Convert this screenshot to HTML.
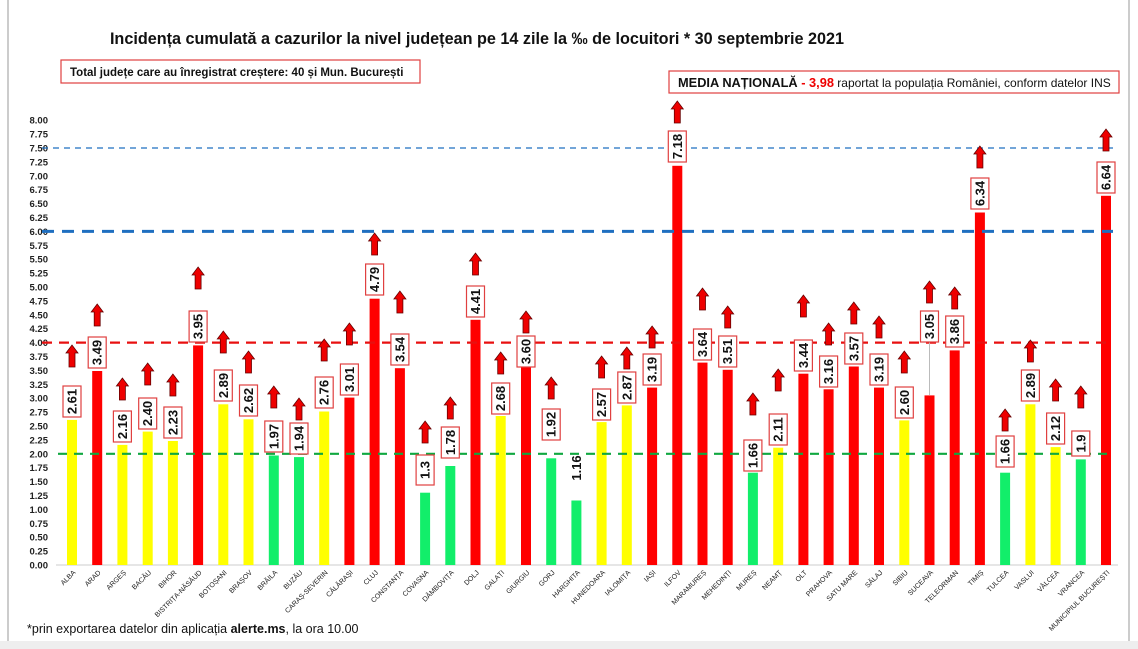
<!DOCTYPE html>
<html><head><meta charset="utf-8"><style>
body{margin:0;background:#fff}
svg{display:block}
text{font-family:"Liberation Sans",sans-serif}
.t{font-size:9.5px;font-weight:bold;fill:#222}
.v{font-size:13px;font-weight:bold;fill:#111}
.c{font-size:7px;fill:#222}
</style></head><body>
<svg width="1138" height="649" viewBox="0 0 1138 649" xmlns="http://www.w3.org/2000/svg">
<defs>
<symbol id="ar" viewBox="-7 -1 14 24" width="14" height="24" overflow="visible">
<path d="M-3,22 L-3,8 L-6,8 L0,0 L6,8 L3,8 L3,22Z" fill="#e00" stroke="#600" stroke-width="0.8"/>
</symbol>
</defs>
<rect x="0" y="0" width="1138" height="649" fill="#fff"/>
<line x1="8" y1="0" x2="8" y2="641" stroke="#bbb" stroke-width="1.5"/>
<line x1="1129" y1="0" x2="1129" y2="641" stroke="#bbb" stroke-width="1.5"/>
<rect x="0" y="641" width="1138" height="8" fill="#eee"/>

<text x="477" y="44" text-anchor="middle" font-size="16.2" font-weight="bold" fill="#111">Incidența cumulată a cazurilor la nivel județean pe 14 zile la ‰ de locuitori * 30 septembrie 2021</text>
<rect x="61" y="60" width="359" height="23" fill="#fff" stroke="#e04040" stroke-width="1.2"/>
<text x="70" y="76" font-size="11.5" font-weight="bold" fill="#111">Total județe care au înregistrat creștere:  40 și Mun. București</text>
<rect x="669" y="71" width="450" height="22" fill="#fff" stroke="#e04040" stroke-width="1.2"/>
<text x="678" y="87" font-size="12.8" fill="#111"><tspan font-weight="bold">MEDIA NAȚIONALĂ</tspan><tspan font-weight="bold" fill="#e00">  - 3,98</tspan><tspan font-size="12"> raportat la populația României, conform datelor INS</tspan></text>

<g class="t" text-anchor="end">
<text x="48" y="568.5">0.00</text><text x="48" y="554.6">0.25</text><text x="48" y="540.7">0.50</text><text x="48" y="526.8">0.75</text>
<text x="48" y="512.9">1.00</text><text x="48" y="499.0">1.25</text><text x="48" y="485.1">1.50</text><text x="48" y="471.2">1.75</text>
<text x="48" y="457.3">2.00</text><text x="48" y="443.4">2.25</text><text x="48" y="429.5">2.50</text><text x="48" y="415.6">2.75</text>
<text x="48" y="401.7">3.00</text><text x="48" y="387.8">3.25</text><text x="48" y="373.9">3.50</text><text x="48" y="360.0">3.75</text>
<text x="48" y="346.1">4.00</text><text x="48" y="332.2">4.25</text><text x="48" y="318.3">4.50</text><text x="48" y="304.4">4.75</text>
<text x="48" y="290.5">5.00</text><text x="48" y="276.6">5.25</text><text x="48" y="262.7">5.50</text><text x="48" y="248.8">5.75</text>
<text x="48" y="234.9">6.00</text><text x="48" y="221.0">6.25</text><text x="48" y="207.1">6.50</text><text x="48" y="193.2">6.75</text>
<text x="48" y="179.3">7.00</text><text x="48" y="165.4">7.25</text><text x="48" y="151.5">7.50</text><text x="48" y="137.6">7.75</text>
<text x="48" y="123.7">8.00</text>
</g>
<line x1="56" y1="565" x2="1118" y2="565" stroke="#ccc" stroke-width="1"/>

<g>
<rect x="67" y="419.9" width="10" height="145.1" fill="#ffff00"/>
<rect x="92.2" y="371" width="10" height="194" fill="#ff0000"/>
<rect x="117.4" y="444.9" width="10" height="120.1" fill="#ffff00"/>
<rect x="142.7" y="431.6" width="10" height="133.4" fill="#ffff00"/>
<rect x="167.9" y="441" width="10" height="124" fill="#ffff00"/>
<rect x="193.1" y="345.4" width="10" height="219.6" fill="#ff0000"/>
<rect x="218.3" y="404.3" width="10" height="160.7" fill="#ffff00"/>
<rect x="243.5" y="419.3" width="10" height="145.7" fill="#ffff00"/>
<rect x="268.8" y="455.5" width="10" height="109.5" fill="#12ee6a"/>
<rect x="294" y="457.1" width="10" height="107.9" fill="#12ee6a"/>
<rect x="319.2" y="411.5" width="10" height="153.5" fill="#ffff00"/>
<rect x="344.4" y="397.6" width="10" height="167.4" fill="#ff0000"/>
<rect x="369.6" y="298.7" width="10" height="266.3" fill="#ff0000"/>
<rect x="394.9" y="368.2" width="10" height="196.8" fill="#ff0000"/>
<rect x="420.1" y="492.7" width="10" height="72.3" fill="#12ee6a"/>
<rect x="445.3" y="466" width="10" height="99" fill="#12ee6a"/>
<rect x="470.5" y="319.8" width="10" height="245.2" fill="#ff0000"/>
<rect x="495.7" y="416" width="10" height="149" fill="#ffff00"/>
<rect x="521" y="364.8" width="10" height="200.2" fill="#ff0000"/>
<rect x="546.2" y="458.3" width="10" height="106.7" fill="#12ee6a"/>
<rect x="571.4" y="500.5" width="10" height="64.5" fill="#12ee6a"/>
<rect x="596.6" y="422.1" width="10" height="142.9" fill="#ffff00"/>
<rect x="621.8" y="405.4" width="10" height="159.6" fill="#ffff00"/>
<rect x="647.1" y="387.6" width="10" height="177.4" fill="#ff0000"/>
<rect x="672.3" y="165.8" width="10" height="399.2" fill="#ff0000"/>
<rect x="697.5" y="362.6" width="10" height="202.4" fill="#ff0000"/>
<rect x="722.7" y="369.8" width="10" height="195.2" fill="#ff0000"/>
<rect x="747.9" y="472.7" width="10" height="92.3" fill="#12ee6a"/>
<rect x="773.2" y="447.7" width="10" height="117.3" fill="#ffff00"/>
<rect x="798.4" y="373.7" width="10" height="191.3" fill="#ff0000"/>
<rect x="823.6" y="389.3" width="10" height="175.7" fill="#ff0000"/>
<rect x="848.8" y="366.5" width="10" height="198.5" fill="#ff0000"/>
<rect x="874" y="387.6" width="10" height="177.4" fill="#ff0000"/>
<rect x="899.3" y="420.4" width="10" height="144.6" fill="#ffff00"/>
<rect x="924.5" y="395.4" width="10" height="169.6" fill="#ff0000"/>
<rect x="949.7" y="350.4" width="10" height="214.6" fill="#ff0000"/>
<rect x="974.9" y="212.5" width="10" height="352.5" fill="#ff0000"/>
<rect x="1000.1" y="472.7" width="10" height="92.3" fill="#12ee6a"/>
<rect x="1025.4" y="404.3" width="10" height="160.7" fill="#ffff00"/>
<rect x="1050.6" y="447.1" width="10" height="117.9" fill="#ffff00"/>
<rect x="1075.8" y="459.4" width="10" height="105.6" fill="#12ee6a"/>
<rect x="1101" y="195.8" width="10" height="369.2" fill="#ff0000"/>
</g>

<line x1="42" y1="148" x2="1113" y2="148" stroke="#1f6fc0" stroke-width="1.3" stroke-dasharray="6,5"/>
<line x1="42" y1="231.4" x2="1113" y2="231.4" stroke="#1f6fc0" stroke-width="3" stroke-dasharray="12,8"/>
<line x1="42" y1="342.6" x2="1113" y2="342.6" stroke="#e81010" stroke-width="2.2" stroke-dasharray="10,7"/>
<line x1="58" y1="453.8" x2="1113" y2="453.8" stroke="#10a840" stroke-width="2.2" stroke-dasharray="9,7"/>

<line x1="929.5" y1="342" x2="929.5" y2="395" stroke="#bbb" stroke-width="1"/>

<g fill="#fff" stroke="#e04040" stroke-width="1.2">
<rect x="63" y="386" width="18" height="31"/>
<rect x="88.2" y="337" width="18" height="31"/>
<rect x="113.4" y="411" width="18" height="31"/>
<rect x="138.7" y="398" width="18" height="31"/>
<rect x="163.9" y="407" width="18" height="31"/>
<rect x="189.1" y="311" width="18" height="31"/>
<rect x="214.3" y="370" width="18" height="31"/>
<rect x="239.5" y="385" width="18" height="31"/>
<rect x="264.8" y="421" width="18" height="31"/>
<rect x="290" y="423" width="18" height="31"/>
<rect x="315.2" y="377" width="18" height="31"/>
<rect x="340.4" y="364" width="18" height="31"/>
<rect x="365.6" y="264" width="18" height="31"/>
<rect x="390.9" y="334" width="18" height="31"/>
<rect x="416.1" y="455" width="18" height="30"/>
<rect x="441.3" y="427" width="18" height="31"/>
<rect x="466.5" y="286" width="18" height="31"/>
<rect x="491.7" y="383" width="18" height="31"/>
<rect x="517" y="336" width="18" height="31"/>
<rect x="542.2" y="409" width="18" height="31"/>
<rect x="592.6" y="389" width="18" height="31"/>
<rect x="617.8" y="372" width="18" height="31"/>
<rect x="643.1" y="354" width="18" height="31"/>
<rect x="668.3" y="131" width="18" height="31"/>
<rect x="693.5" y="329" width="18" height="31"/>
<rect x="718.7" y="336" width="18" height="31"/>
<rect x="743.9" y="440" width="18" height="31"/>
<rect x="769.2" y="414" width="18" height="31"/>
<rect x="794.4" y="340" width="18" height="31"/>
<rect x="819.6" y="356" width="18" height="31"/>
<rect x="844.8" y="333" width="18" height="31"/>
<rect x="870" y="354" width="18" height="31"/>
<rect x="895.3" y="387" width="18" height="31"/>
<rect x="920.5" y="311" width="18" height="31"/>
<rect x="945.7" y="316" width="18" height="31"/>
<rect x="970.9" y="178" width="18" height="31"/>
<rect x="996.1" y="436" width="18" height="31"/>
<rect x="1021.4" y="370" width="18" height="31"/>
<rect x="1046.6" y="413" width="18" height="31"/>
<rect x="1071.8" y="431" width="18" height="25"/>
<rect x="1097" y="162" width="18" height="31"/>
</g>
<g class="v" text-anchor="middle">
<text transform="translate(76.5,401.5) rotate(-90)">2.61</text>
<text transform="translate(101.7,352.5) rotate(-90)">3.49</text>
<text transform="translate(126.9,426.5) rotate(-90)">2.16</text>
<text transform="translate(152.2,413.5) rotate(-90)">2.40</text>
<text transform="translate(177.4,422.5) rotate(-90)">2.23</text>
<text transform="translate(202.6,326.5) rotate(-90)">3.95</text>
<text transform="translate(227.8,385.5) rotate(-90)">2.89</text>
<text transform="translate(253,400.5) rotate(-90)">2.62</text>
<text transform="translate(278.3,436.5) rotate(-90)">1.97</text>
<text transform="translate(303.5,438.5) rotate(-90)">1.94</text>
<text transform="translate(328.7,392.5) rotate(-90)">2.76</text>
<text transform="translate(353.9,379.5) rotate(-90)">3.01</text>
<text transform="translate(379.1,279.5) rotate(-90)">4.79</text>
<text transform="translate(404.4,349.5) rotate(-90)">3.54</text>
<text transform="translate(429.6,470) rotate(-90)">1.3</text>
<text transform="translate(454.8,442.5) rotate(-90)">1.78</text>
<text transform="translate(480,301.5) rotate(-90)">4.41</text>
<text transform="translate(505.2,398.5) rotate(-90)">2.68</text>
<text transform="translate(530.5,351.5) rotate(-90)">3.60</text>
<text transform="translate(555.7,424.5) rotate(-90)">1.92</text>
<text transform="translate(580.9,468) rotate(-90)">1.16</text>
<text transform="translate(606.1,404.5) rotate(-90)">2.57</text>
<text transform="translate(631.3,387.5) rotate(-90)">2.87</text>
<text transform="translate(656.6,369.5) rotate(-90)">3.19</text>
<text transform="translate(681.8,146.5) rotate(-90)">7.18</text>
<text transform="translate(707,344.5) rotate(-90)">3.64</text>
<text transform="translate(732.2,351.5) rotate(-90)">3.51</text>
<text transform="translate(757.4,455.5) rotate(-90)">1.66</text>
<text transform="translate(782.7,429.5) rotate(-90)">2.11</text>
<text transform="translate(807.9,355.5) rotate(-90)">3.44</text>
<text transform="translate(833.1,371.5) rotate(-90)">3.16</text>
<text transform="translate(858.3,348.5) rotate(-90)">3.57</text>
<text transform="translate(883.5,369.5) rotate(-90)">3.19</text>
<text transform="translate(908.8,402.5) rotate(-90)">2.60</text>
<text transform="translate(934,326.5) rotate(-90)">3.05</text>
<text transform="translate(959.2,331.5) rotate(-90)">3.86</text>
<text transform="translate(984.4,193.5) rotate(-90)">6.34</text>
<text transform="translate(1009.6,451.5) rotate(-90)">1.66</text>
<text transform="translate(1034.9,385.5) rotate(-90)">2.89</text>
<text transform="translate(1060.1,428.5) rotate(-90)">2.12</text>
<text transform="translate(1085.3,443.5) rotate(-90)">1.9</text>
<text transform="translate(1110.5,177.5) rotate(-90)">6.64</text>
</g>

<g>
<use href="#ar" x="65" y="344"/><use href="#ar" x="90.2" y="303"/><use href="#ar" x="115.4" y="377"/>
<use href="#ar" x="140.7" y="362"/><use href="#ar" x="165.9" y="373"/><use href="#ar" x="191.1" y="266"/>
<use href="#ar" x="216.3" y="330"/><use href="#ar" x="241.5" y="350"/><use href="#ar" x="266.8" y="385"/>
<use href="#ar" x="292" y="397"/><use href="#ar" x="317.2" y="338"/><use href="#ar" x="342.4" y="322"/>
<use href="#ar" x="367.6" y="232"/><use href="#ar" x="392.9" y="290"/><use href="#ar" x="418.1" y="420"/>
<use href="#ar" x="443.3" y="396"/><use href="#ar" x="468.5" y="252"/><use href="#ar" x="493.7" y="351"/>
<use href="#ar" x="519" y="310"/><use href="#ar" x="544.2" y="376"/><use href="#ar" x="594.6" y="355"/>
<use href="#ar" x="619.8" y="346"/><use href="#ar" x="645.1" y="325"/><use href="#ar" x="670.3" y="100"/>
<use href="#ar" x="695.5" y="287"/><use href="#ar" x="720.7" y="305"/><use href="#ar" x="745.9" y="392"/>
<use href="#ar" x="771.2" y="368"/><use href="#ar" x="796.4" y="294"/><use href="#ar" x="821.6" y="322"/>
<use href="#ar" x="846.8" y="301"/><use href="#ar" x="872" y="315"/><use href="#ar" x="897.3" y="350"/>
<use href="#ar" x="922.5" y="280"/><use href="#ar" x="947.7" y="286"/><use href="#ar" x="972.9" y="145"/>
<use href="#ar" x="998.1" y="408"/><use href="#ar" x="1023.4" y="339"/><use href="#ar" x="1048.6" y="378"/>
<use href="#ar" x="1073.8" y="385"/><use href="#ar" x="1099" y="128"/>
</g>

<g class="c" text-anchor="end">
<text transform="translate(76,573) rotate(-45)">ALBA</text>
<text transform="translate(101.2,573) rotate(-45)">ARAD</text>
<text transform="translate(126.4,573) rotate(-45)">ARGEȘ</text>
<text transform="translate(151.7,573) rotate(-45)">BACĂU</text>
<text transform="translate(176.9,573) rotate(-45)">BIHOR</text>
<text transform="translate(202.1,573) rotate(-45)">BISTRIȚA-NĂSĂUD</text>
<text transform="translate(227.3,573) rotate(-45)">BOTOȘANI</text>
<text transform="translate(252.5,573) rotate(-45)">BRAȘOV</text>
<text transform="translate(277.8,573) rotate(-45)">BRĂILA</text>
<text transform="translate(303,573) rotate(-45)">BUZĂU</text>
<text transform="translate(328.2,573) rotate(-45)">CARAȘ-SEVERIN</text>
<text transform="translate(353.4,573) rotate(-45)">CĂLĂRAȘI</text>
<text transform="translate(378.6,573) rotate(-45)">CLUJ</text>
<text transform="translate(403.9,573) rotate(-45)">CONSTANȚA</text>
<text transform="translate(429.1,573) rotate(-45)">COVASNA</text>
<text transform="translate(454.3,573) rotate(-45)">DÂMBOVIȚA</text>
<text transform="translate(479.5,573) rotate(-45)">DOLJ</text>
<text transform="translate(504.7,573) rotate(-45)">GALAȚI</text>
<text transform="translate(530,573) rotate(-45)">GIURGIU</text>
<text transform="translate(555.2,573) rotate(-45)">GORJ</text>
<text transform="translate(580.4,573) rotate(-45)">HARGHITA</text>
<text transform="translate(605.6,573) rotate(-45)">HUNEDOARA</text>
<text transform="translate(630.8,573) rotate(-45)">IALOMIȚA</text>
<text transform="translate(656.1,573) rotate(-45)">IAȘI</text>
<text transform="translate(681.3,573) rotate(-45)">ILFOV</text>
<text transform="translate(706.5,573) rotate(-45)">MARAMUREȘ</text>
<text transform="translate(731.7,573) rotate(-45)">MEHEDINȚI</text>
<text transform="translate(756.9,573) rotate(-45)">MUREȘ</text>
<text transform="translate(782.2,573) rotate(-45)">NEAMȚ</text>
<text transform="translate(807.4,573) rotate(-45)">OLT</text>
<text transform="translate(832.6,573) rotate(-45)">PRAHOVA</text>
<text transform="translate(857.8,573) rotate(-45)">SATU MARE</text>
<text transform="translate(883,573) rotate(-45)">SĂLAJ</text>
<text transform="translate(908.3,573) rotate(-45)">SIBIU</text>
<text transform="translate(933.5,573) rotate(-45)">SUCEAVA</text>
<text transform="translate(958.7,573) rotate(-45)">TELEORMAN</text>
<text transform="translate(983.9,573) rotate(-45)">TIMIȘ</text>
<text transform="translate(1009.1,573) rotate(-45)">TULCEA</text>
<text transform="translate(1034.4,573) rotate(-45)">VASLUI</text>
<text transform="translate(1059.6,573) rotate(-45)">VÂLCEA</text>
<text transform="translate(1084.8,573) rotate(-45)">VRANCEA</text>
<text transform="translate(1110,573) rotate(-45)">MUNICIPIUL BUCUREȘTI</text>
</g>

<text x="27" y="633" font-size="12.5" fill="#111">*prin exportarea  datelor din aplicația <tspan font-weight="bold">alerte.ms</tspan>, la ora 10.00</text>
</svg>
</body></html>
